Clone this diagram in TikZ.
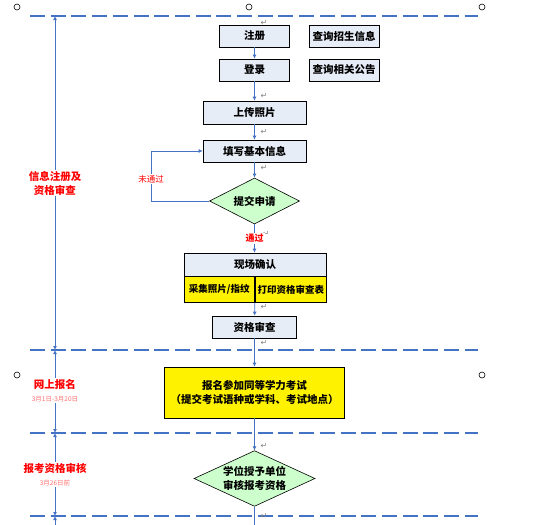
\documentclass[tikz,border=0pt]{standalone}
\usepackage{fontspec}
\setmainfont{Noto Sans CJK SC}
\newfontfamily\symfont{DejaVu Sans}
\usetikzlibrary{shapes.geometric,arrows.meta}

\definecolor{laneblue}{RGB}{68,114,196}
\definecolor{boxblue}{RGB}{231,237,247}
\definecolor{passgreen}{RGB}{204,255,204}
\definecolor{datered}{RGB}{255,110,110}

\tikzset{
  >={Latex[length=4pt,width=4pt]},
  flow/.style={draw=laneblue, line width=0.8pt},
  lane/.style={draw=laneblue, line width=2.7pt, dash pattern=on 15pt off 5.7pt},
  stepbox/.style={draw, fill=boxblue, line width=0.6pt, minimum width=70pt, minimum height=22pt,
    inner sep=0pt, font=\bfseries\fontsize{10.5}{13}\selectfont},
  hibox/.style={stepbox, fill=yellow},
  decision/.style={diamond, draw, fill=passgreen, line width=0.6pt, shape aspect=2, inner sep=0pt,
    minimum width=90pt, minimum height=46pt, font=\bfseries\fontsize{10.5}{14}\selectfont},
  stagelbl/.style={text=red, inner sep=1pt, align=center, font=\bfseries\fontsize{10.5}{14}\selectfont},
  datelbl/.style={text=datered, inner sep=1pt, font=\fontsize{6.5}{8}\selectfont},
  retmark/.style={text=gray, inner sep=0pt, font=\symfont\fontsize{8}{8}\selectfont},
}

\begin{document}
\begin{tikzpicture}[x=1pt,y=-1pt]
\useasboundingbox (0,0) rectangle (539,525);

% canvas handles
\foreach \x/\y in {17/7,249/7,482/7,17/375,482/375}
  \draw[line width=0.6pt] (\x,\y) circle (3pt);

% lanes
\foreach \y in {16,350,433,516}
  \draw[lane] (30,\y) -- (478,\y);

% paragraph marks
\foreach \y in {23,96,132,168,307,343,446,516}
  \node[retmark] (ret\y) at (264,\y) {↵};
\node[retmark] (retpass) at (266,234) {↵};

% steps
\node[stepbox] (reg) at (254.5,36) {注册};
\node[stepbox] (info) at (344,36) {查询招生信息};
\node[stepbox] (login) at (254.5,70) {登录};
\node[stepbox] (notice) at (344,70) {查询相关公告};
\node[stepbox, minimum width=103pt, minimum height=23pt] (photo) at (254.5,112.5) {上传照片};
\node[stepbox, minimum width=103pt] (form) at (254.5,151) {填写基本信息};
\node[decision] (submit) at (254.5,201) {提交申请};
\node[stepbox, minimum width=142pt, minimum height=23pt] (confirm) at (255,264.5) {现场确认};
\node[hibox, anchor=north west, minimum width=70.5pt, minimum height=26pt,
  font=\bfseries\fontsize{9.5}{12}\selectfont] (collect) at (confirm.south west) {采集照片/指纹};
\node[hibox, anchor=north west, minimum width=71.5pt, minimum height=26pt,
  font=\bfseries\fontsize{9.5}{12}\selectfont] (print) at (collect.north east) {打印资格审查表};
\node[stepbox, minimum width=84pt] (check) at (254.5,327) {资格审查};
\node[hibox, minimum width=180pt, minimum height=51pt, align=center,
  font=\bfseries\fontsize{10.5}{14}\selectfont] (apply) at (254.5,392.5)
  {报名参加同等学力考试\\（提交考试语种或学科、考试地点）};
\node[decision, minimum width=121pt, minimum height=55pt, align=center] (review) at (254.5,478.5)
  {学位授予单位\\审核报考资格};
\coordinate (exit) at (254.5,525);

% flow
\draw[flow,->] (reg) -- (login);
\draw[flow,->] (login) -- (photo);
\draw[flow,->] (photo) -- (form);
\draw[flow,->] (form) -- (submit);
\draw[flow,->] (submit) -- node[fill=white, text=red, inner sep=1pt,
  font=\bfseries\fontsize{9}{10}\selectfont] {通过} (submit |- confirm.north);
\draw[flow,->] (submit.west) -- ++(-58,0) |- node[pos=0.22, fill=white, text=red, inner sep=1pt,
  font=\fontsize{8.5}{10}\selectfont] {未通过} (form.west);
\draw[flow,->] (collect.south east) -- (check);
\draw[flow,->] (check) -- (apply);
\draw[flow,->] (apply) -- (review);
\draw[flow] (review) -- (exit);

% stages
\coordinate (lane1) at (55,16);
\coordinate (lane2) at (55,350);
\coordinate (lane3) at (55,433);
\coordinate (lane4) at (55,516);
\coordinate (laneend) at (55,525);
\node[stagelbl] (stage1) at (55,183) {信息注册及\\资格审查};
\node[stagelbl] (web) at (55,384) {网上报名};
\node[datelbl] (webdate) at (55,399) {3月1日-3月20日};
\node[stagelbl] (audit) at (55,468) {报考资格审核};
\node[datelbl] (auditdate) at (55,483) {3月26日前};
\draw[flow,->] (stage1) -- (lane1);
\draw[flow,->] (stage1) -- (lane2);
\draw[flow,->] (web) -- (lane2);
\draw[flow,->] (webdate) -- (lane3);
\draw[flow,->] (audit) -- (lane3);
\draw[flow,->] (auditdate) -- (lane4);
\draw[flow,->] (laneend) -- (lane4);

\end{tikzpicture}
\end{document}
